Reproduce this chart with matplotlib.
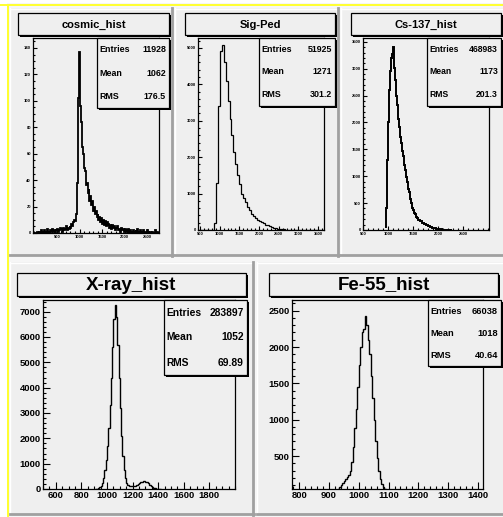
import numpy as np
import matplotlib
matplotlib.use('Agg')
import matplotlib.pyplot as plt
from matplotlib.patches import Rectangle
from matplotlib.ticker import MultipleLocator, FixedLocator

# ---------------- data ----------------
titles = ["cosmic_hist", "Sig-Ped", "Cs-137_hist", "X-ray_hist", "Fe-55_hist"]
stat_names = ["Entries", "Mean", "RMS"]
stat_values = [
    ["11928", "1062", "176.5"],
    ["51925", "1271", "301.2"],
    ["468983", "1173", "201.3"],
    ["283897", "1052", "69.89"],
    ["66038", "1018", "40.64"],
]

cosmic_start, cosmic_width = 0, 20
cosmic_counts = [
    0, 0, 0, 1, 0, 1, 0, 2, 1, 0,
    1, 2, 0, 1, 3, 1, 0, 2, 1, 2,
    3, 1, 2, 0, 2, 3, 1, 2, 4, 2,
    3, 1, 4, 2, 3, 5, 2, 4, 3, 5,
    4, 7, 5, 8, 10, 9, 14, 38, 102, 137,
    128, 96, 84, 65, 60, 49, 47, 36, 38, 30,
    33, 24, 28, 21, 24, 17, 20, 14, 17, 12,
    14, 10, 12, 8, 11, 7, 10, 6, 9, 5,
    8, 5, 7, 4, 6, 3, 6, 4, 5, 2,
    4, 3, 5, 2, 3, 1, 4, 2, 3, 1,
    3, 1, 2, 0, 3, 1, 2, 1, 0, 2,
    1, 0, 2, 1, 3, 0, 1, 2, 0, 1,
    2, 0, 1, 1, 0, 2, 1, 0, 1, 0,
    1, 0, 1, 0, 2, 0, 1, 0,
]

sig_start, sig_width = 450, 50
sig_counts = [
    0, 0, 0, 0, 0, 0, 0, 0, 200, 1300,
    3400, 4900, 5070, 4600, 4100, 3550, 3050, 2600, 2150, 1800,
    1500, 1250, 1000, 880, 760, 640, 540, 450, 390, 330,
    280, 250, 210, 180, 150, 125, 100, 80, 65, 50,
    40, 30, 22, 16, 12, 8, 6, 4, 3, 2,
    1, 1, 0, 0, 0, 0, 0, 0, 0, 0,
    0, 0, 0, 0,
]

cs_start, cs_width = 940, 20
cs_counts = [
    50, 400, 1300, 2000, 2600, 2950, 3200, 3280, 3400, 3020,
    2780, 2500, 2320, 2060, 1920, 1730, 1620, 1460, 1370, 1210,
    1120, 980, 900, 770, 700, 570, 505, 410, 370, 310,
    290, 240, 232, 195, 190, 165, 160, 135, 133, 112,
    108, 90, 88, 72, 70, 56, 54, 42, 41, 33,
    31, 24, 23, 17, 16, 12, 11, 8, 7, 5,
    5, 3, 3, 2, 1, 1, 0,
]

xray_start, xray_width = 910, 10
xray_counts = [
    0, 10, 30, 60, 120, 250, 450, 750, 1150, 1700,
    2400, 3300, 4400, 5600, 6700, 7250, 6800, 5700, 4400, 3200,
    2100, 1300, 750, 420, 250, 160, 120, 110, 105, 110,
    120, 130, 150, 180, 220, 260, 290, 300, 300, 290,
    260, 220, 170, 120, 80, 50, 30, 15, 8, 3, 0,
]

fe_start, fe_width = 925, 5
fe_counts = [
    30, 50, 70, 100, 125, 150, 180, 210, 240, 290,
    420, 620, 880, 1150, 1450, 1750, 2000, 2200, 2250, 2420,
    2300, 2100, 1900, 1600, 1300, 1000, 700, 470, 300, 180,
    110, 70, 50, 35, 25,
]

# ---------------- layout helpers ----------------
W, H = 503, 517
fig = plt.figure(figsize=(W / 100, H / 100), dpi=100)
fig.patch.set_facecolor('white')
FONT = 'Liberation Sans'
PADC = '#efefef'

bg = fig.add_axes([0, 0, 1, 1], zorder=0)
bg.set_xlim(0, W); bg.set_ylim(H, 0); bg.axis('off')
ov = fig.add_axes([0, 0, 1, 1], zorder=5)
ov.set_xlim(0, W); ov.set_ylim(H, 0); ov.axis('off')
ov.patch.set_alpha(0)


def frac(x0, y0, x1, y1):
    return [x0 / W, 1 - y1 / H, (x1 - x0) / W, (y1 - y0) / H]


# canvas
bg.add_patch(Rectangle((7, 3), W, H, facecolor='#f6f6f6', edgecolor='none'))
bg.add_patch(Rectangle((0, 3.5), W, 2.5, facecolor='#ffff33', edgecolor='none'))
bg.add_patch(Rectangle((7, 3.5), 2.5, H, facecolor='#ffff33', edgecolor='none'))

pads = [(10, 8, 173, 256), (175, 8, 339, 256), (341, 8, 507, 256),
        (10, 262, 254, 515), (257, 262, 507, 515)]
for (x0, y0, x1, y1) in pads:
    bg.add_patch(Rectangle((x0, y0), x1 - x0, y1 - y0, facecolor=PADC, edgecolor='none'))
    bg.plot([x0, x1], [y0 + 0.5, y0 + 0.5], color='white', lw=1)
    bg.plot([x0 + 0.5, x0 + 0.5], [y0, y1], color='white', lw=1)
    bg.plot([x0, x1], [y1 - 1, y1 - 1], color='#a0a0a0', lw=2)
    bg.plot([x1 - 1, x1 - 1], [y0, y1], color='#a0a0a0', lw=2)


def shadow_box(x0, y0, x1, y1):
    ov.add_patch(Rectangle((x0 + 2, y0 + 2), x1 - x0, y1 - y0, facecolor='black',
                           edgecolor='none', zorder=1))
    ov.add_patch(Rectangle((x0, y0), x1 - x0, y1 - y0, facecolor=PADC,
                           edgecolor='black', lw=0.9, zorder=2))


def title_box(box, text, fs):
    x0, y0, x1, y1 = box
    shadow_box(x0, y0, x1, y1)
    ov.text((x0 + x1) / 2, (y0 + y1) / 2 + 0.5, text, ha='center', va='center',
            fontsize=fs, fontweight='bold', family=FONT, zorder=3)


def stats_box(box, vals, fs):
    x0, y0, x1, y1 = box
    shadow_box(x0, y0, x1, y1)
    h = y1 - y0
    for k, (nm, v) in enumerate(zip(stat_names, vals)):
        yy = y0 + h * (1 + 2 * k) / 6
        ov.text(x0 + 2.5, yy, nm, ha='left', va='center', fontsize=fs,
                fontweight='bold', family=FONT, zorder=3)
        ov.text(x1 - 3, yy, v, ha='right', va='center', fontsize=fs,
                fontweight='bold', family=FONT, zorder=3)


def hist_axes(frame, counts, start, width, xlim, ylim, xmaj, xmin_, ymaj, ymin_,
              xticks, yticks, fs, tl, lw=0.9):
    ax = fig.add_axes(frac(*frame), zorder=2)
    ax.set_facecolor('none')
    edges = start + width * np.arange(len(counts) + 1)
    ax.stairs(counts, edges, color='black', lw=lw, baseline=None)
    ax.set_xlim(*xlim); ax.set_ylim(*ylim)
    ax.xaxis.set_major_locator(FixedLocator(xticks))
    ax.yaxis.set_major_locator(FixedLocator(yticks))
    ax.xaxis.set_minor_locator(MultipleLocator(xmin_))
    ax.yaxis.set_minor_locator(MultipleLocator(ymin_))
    ax.tick_params(which='both', direction='in', top=False, right=False, width=0.8,
                   labelsize=fs, pad=1.5)
    ax.tick_params(which='major', length=tl)
    ax.tick_params(which='minor', length=tl * 0.5)
    for lab in ax.get_xticklabels() + ax.get_yticklabels():
        lab.set_fontweight('bold'); lab.set_family(FONT)
    for s in ax.spines.values():
        s.set_linewidth(0.9)
    return ax


# ---------------- pads ----------------
# 1 cosmic
hist_axes((33, 38, 159, 233), cosmic_counts, cosmic_start, cosmic_width,
          (-30, 2760), (0, 147.5), 500, 100, 20, 5,
          [500, 1000, 1500, 2000, 2500], list(range(0, 141, 20)), 3.0, 3, lw=1.3)
title_box((18, 13, 169, 35), titles[0], 8)
stats_box((97, 38, 169, 108), stat_values[0], 6.4)

# 2 Sig-Ped
hist_axes((198, 38, 324, 230), sig_counts, sig_start, sig_width,
          (450, 3650), (0, 5270), 500, 100, 1000, 200,
          [500, 1000, 1500, 2000, 2500, 3000, 3500], [0, 1000, 2000, 3000, 4000, 5000],
          3.0, 3)
title_box((185, 13, 335, 35), titles[1], 8)
stats_box((259, 38, 335, 106), stat_values[1], 6.4)

# 3 Cs-137
hist_axes((363, 38, 489, 230), cs_counts, cs_start, cs_width,
          (500, 3020), (0, 3570), 500, 100, 500, 100,
          [500, 1000, 1500, 2000, 2500], list(range(0, 3501, 500)), 3.0, 3, lw=1.4)
title_box((351, 13, 501, 35), titles[2], 8)
stats_box((427, 38, 501, 106), stat_values[2], 6.2)

# 4 X-ray
hist_axes((43, 300, 235, 489), xray_counts, xray_start, xray_width,
          (500, 2000), (0, 7460), 200, 50, 1000, 200,
          list(range(600, 1801, 200)), list(range(0, 7001, 1000)), 6.8, 5, lw=1.0)
title_box((17, 273, 246, 296), titles[3], 13.5)
stats_box((164, 300, 247, 375), stat_values[3], 7.4)

# 5 Fe-55
hist_axes((292, 300, 483, 489), fe_counts, fe_start, fe_width,
          (776, 1417), (46, 2647), 100, 20, 500, 100,
          list(range(800, 1401, 100)), [500, 1000, 1500, 2000, 2500], 6.8, 5, lw=1.0)
title_box((269, 273, 498, 296), titles[4], 13.5)
stats_box((428, 300, 501, 366), stat_values[4], 6.7)

fig.savefig('out.png', dpi=100, facecolor=fig.get_facecolor())
